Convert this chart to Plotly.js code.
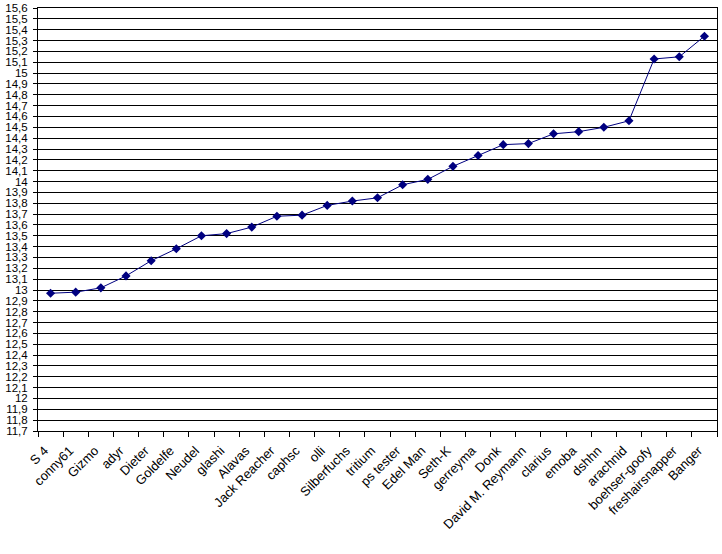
<!DOCTYPE html>
<html>
<head>
<meta charset="utf-8">
<script src="https://cdn.plot.ly/plotly-3.0.1.min.js"></script>
<style>
  html, body { margin: 0; padding: 0; background: #fff; }
  #graph { width: 722px; height: 554px; }
</style>
</head>
<body>
<div id="graph"></div>
<script>
// names along the bottom, in the order they appear
const names = [
  'S 4', 'conny61', 'Gizmo', 'adyr', 'Dieter', 'Goldelfe', 'Neudel', 'glashi',
  'Alavas', 'Jack Reacher', 'caphsc', 'olli', 'Silberfuchs', 'tritium',
  'ps tester', 'Edel Man', 'Seth-K', 'gerreyma', 'Donk', 'David M. Reymann',
  'clarius', 'emoba', 'dshhn', 'arachnid', 'boehser-goofy', 'freshairsnapper', 'Banger'
];

// values
const scores = [
  12.97, 12.98, 13.02, 13.13, 13.27, 13.38, 13.50, 13.52,
  13.58, 13.68, 13.69, 13.78, 13.82, 13.85,
  13.97, 14.02, 14.14, 14.24, 14.34, 14.35,
  14.44, 14.46, 14.50, 14.56, 15.13, 15.15, 15.34
];

const yMin = 11.7;
const yMax = 15.6;
const yStep = 0.1;

plot();

function plot() {
  const trace = {
    x: names,
    y: scores,
    type: 'scatter',
    mode: 'lines+markers',
    line: { color: '#000080', width: 1 },
    marker: { symbol: 'diamond', size: 7, color: '#000080' },
    hoverinfo: 'x+y'
  };

  const layout = {
    width: 722,
    height: 554,
    margin: { l: 38, r: 5, t: 8, b: 123, pad: 0 },
    paper_bgcolor: '#fff',
    plot_bgcolor: '#fff',
    separators: ',.',
    showlegend: false,
    font: { family: 'Liberation Sans, Arial, sans-serif', color: '#000' },
    xaxis: {
      type: 'category',
      range: [-0.5, names.length - 0.5],
      tickson: 'boundaries',
      ticks: 'outside',
      ticklen: 5,
      tickcolor: '#000',
      tickangle: -45,
      ticklabelstandoff: 6,
      ticklabelshift: -6,
      tickfont: { size: 13, color: '#000' },
      showgrid: false,
      showline: true,
      linecolor: '#000',
      linewidth: 1,
      mirror: true,
      zeroline: false
    },
    yaxis: {
      range: [yMin, yMax],
      dtick: yStep,
      tick0: yMin,
      ticks: 'outside',
      ticklen: 4,
      tickcolor: '#000',
      ticklabelstandoff: 3,
      tickfont: { size: 11.5, color: '#000' },
      showgrid: true,
      gridcolor: '#000',
      gridwidth: 1,
      showline: true,
      linecolor: '#000',
      linewidth: 1,
      mirror: true,
      zeroline: false
    }
  };

  Plotly.newPlot('graph', [trace], layout, { displayModeBar: false, staticPlot: true });
}
</script>
</body>
</html>
